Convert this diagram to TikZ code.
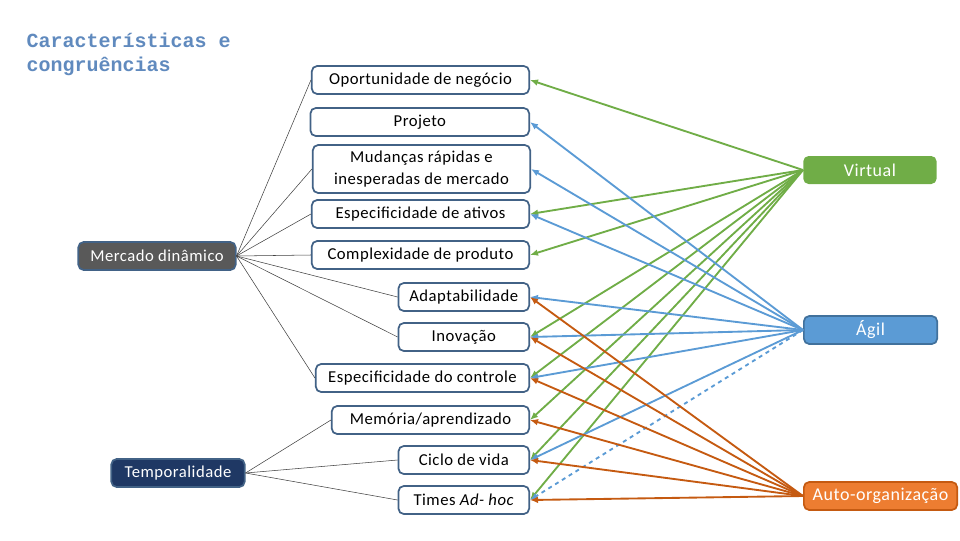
\documentclass[tikz,border=0pt]{standalone}
\usepackage{fontspec}
\setmainfont{Carlito}[LetterSpace=3]
\newfontfamily\titlefont{Liberation Mono}
\usetikzlibrary{arrows.meta}

\definecolor{boxline}{RGB}{66,98,134}
\definecolor{virtgreen}{RGB}{112,173,71}
\definecolor{agilblue}{RGB}{91,155,213}
\definecolor{agilline}{RGB}{65,113,156}
\definecolor{autoorange}{RGB}{237,125,49}
\definecolor{autoline}{RGB}{197,90,17}
\definecolor{mercgray}{RGB}{89,89,89}
\definecolor{tempnavy}{RGB}{31,56,100}
\definecolor{titleblue}{RGB}{96,138,190}

\begin{document}
\begin{tikzpicture}[x=0.75pt,y=-0.75pt]
\tikzset{every node/.style={font=\fontsize{12.5}{16.5}\selectfont}}
\tikzset{item/.style={draw=boxline, line width=1.3pt, rounded corners=4pt, fill=white,
  minimum height=21pt, anchor=east, align=center, inner sep=2pt}}
\tikzset{group/.style={draw=boxline, line width=1.3pt, rounded corners=4pt, text=white,
  minimum height=21pt, inner sep=2pt}}
\tikzset{model/.style={rounded corners=4pt, text=white, minimum height=21pt,
  minimum width=100pt, anchor=west, inner sep=2pt, font=\fontsize{13.5}{16}\selectfont}}
\tikzset{tie/.style={black!75, line width=0.4pt}}
\tikzset{link/.style={line width=1.4pt, -{Latex[length=6pt,width=5pt]}}}

\useasboundingbox (0,0) rectangle (960,540);

% Title
\node[anchor=north west, align=left, text=titleblue,
  font=\titlefont\bfseries\fontsize{15}{18}\selectfont] at (22,28) (title)
  {Características e\\congruências};

% Nodes for groups
\node[group, fill=mercgray, minimum width=118pt] at (157,256) (mercado) {Mercado dinâmico};
\node[group, fill=tempnavy, minimum width=100pt] at (178,473) (tempo) {Temporalidade};

% Nodes for characteristics
\node[item, minimum width=163pt] at (530,80) (oport) {Oportunidade de negócio};
\node[item, minimum width=164pt] at (530,122) (projeto) {Projeto};
\node[item, minimum width=163pt, minimum height=36pt] at (531,169) (mudancas)
  {Mudanças rápidas e\\inesperadas de mercado};
\node[item, minimum width=163pt] at (530,214) (ativos) {Especificidade de ativos};
\node[item, minimum width=163pt] at (530,255) (complex) {Complexidade de produto};
\node[item, minimum width=98pt] at (530,297) (adapt) {Adaptabilidade};
\node[item, minimum width=98pt] at (530,337) (inova) {Inovação};
\node[item, minimum width=160pt] at (530,378) (controle) {Especificidade do controle};
\node[item, minimum width=148pt] at (530,420) (memoria) {Memória/aprendizado};
\node[item, minimum width=98pt] at (530,460) (ciclo) {Ciclo de vida};
\node[item, minimum width=98pt] at (530,500) (times) {Times \emph{Ad- hoc}};

% Nodes for models
\node[model, fill=virtgreen] at (803,170) (virtual) {Virtual};
\node[model, fill=agilblue, draw=agilline, line width=1.3pt] at (803,330) (agil) {Ágil};
\node[model, fill=autoorange, draw=autoline, line width=1.3pt, minimum width=115pt] at (803,496) (auto) {Auto-organização};

% Lines for Mercado dinâmico
\draw[tie] (mercado.east) -- (oport.west);
\draw[tie] (mercado.east) -- (mudancas.west);
\draw[tie] (mercado.east) -- (ativos.west);
\draw[tie] (mercado.east) -- (complex.west);
\draw[tie] (mercado.east) -- (adapt.west);
\draw[tie] (mercado.east) -- (inova.west);
\draw[tie] (mercado.east) -- (controle.west);

% Lines for Temporalidade
\draw[tie] (tempo.east) -- (memoria.west);
\draw[tie] (tempo.east) -- (ciclo.west);
\draw[tie] (tempo.east) -- (times.west);

% Arrows for Virtual
\draw[link, virtgreen] (virtual.west) -- (oport.east);
\draw[link, virtgreen] (virtual.west) -- (ativos.east);
\draw[link, virtgreen] (virtual.west) -- (complex.east);
\draw[link, virtgreen] (virtual.west) -- (inova.east);
\draw[link, virtgreen] (virtual.west) -- (controle.east);
\draw[link, virtgreen] (virtual.west) -- (memoria.east);
\draw[link, virtgreen] (virtual.west) -- (ciclo.east);
\draw[link, virtgreen] (virtual.west) -- (times.east);

% Arrows for Ágil
\draw[link, agilblue] (agil.west) -- (projeto.east);
\draw[link, agilblue] (agil.west) -- (mudancas.east);
\draw[link, agilblue] (agil.west) -- (ativos.east);
\draw[link, agilblue] (agil.west) -- (adapt.east);
\draw[link, agilblue] (agil.west) -- (inova.east);
\draw[link, agilblue] (agil.west) -- (controle.east);
\draw[link, agilblue] (agil.west) -- (ciclo.east);
\draw[link, agilblue, dashed] (agil.west) -- (times.east);

% Arrows for Auto-organização
\draw[link, autoline] (auto.west) -- (adapt.east);
\draw[link, autoline] (auto.west) -- (inova.east);
\draw[link, autoline] (auto.west) -- (controle.east);
\draw[link, autoline] (auto.west) -- (memoria.east);
\draw[link, autoline] (auto.west) -- (ciclo.east);
\draw[link, autoline] (auto.west) -- (times.east);
\end{tikzpicture}
\end{document}
